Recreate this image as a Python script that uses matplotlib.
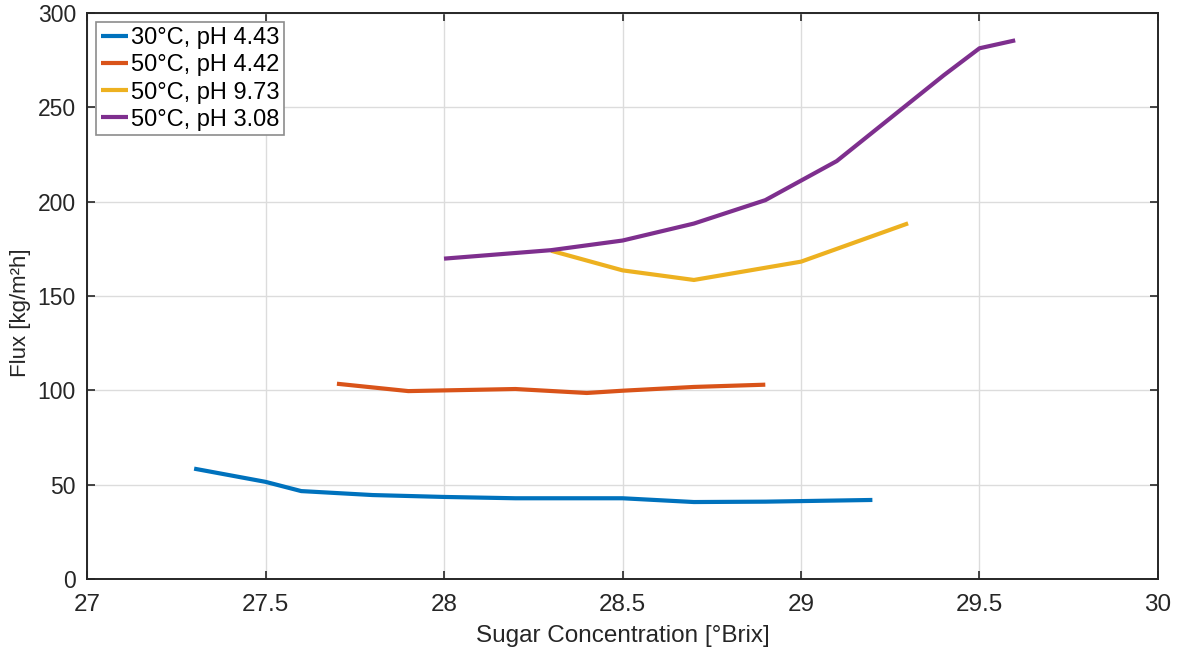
import matplotlib
matplotlib.use('Agg')
import matplotlib.pyplot as plt

# Flux vs sugar concentration for four temperature / pH runs
x_30_443 = [27.3, 27.5, 27.6, 27.8, 28.0, 28.2, 28.5, 28.7, 28.9, 29.0, 29.2]
y_30_443 = [58.5, 51.5, 46.6, 44.5, 43.5, 42.8, 42.8, 40.8, 41.0, 41.3, 41.9]

x_50_442 = [27.7, 27.9, 28.2, 28.4, 28.5, 28.7, 28.9]
y_50_442 = [103.5, 99.6, 100.7, 98.6, 99.8, 101.8, 103.0]

x_50_973 = [28.3, 28.5, 28.7, 29.0, 29.3]
y_50_973 = [174.0, 163.6, 158.5, 168.2, 188.5]

x_50_308 = [28.0, 28.3, 28.5, 28.7, 28.9, 29.1, 29.4, 29.5, 29.6]
y_50_308 = [169.8, 174.3, 179.4, 188.4, 200.8, 221.5, 267.0, 281.3, 285.5]

labels = ['30°C, pH 4.43', '50°C, pH 4.42', '50°C, pH 9.73', '50°C, pH 3.08']
colors = ['#0072BD', '#D95319', '#EDB120', '#7E2F8E']

xticks = [27, 27.5, 28, 28.5, 29, 29.5, 30]
yticks = [0, 50, 100, 150, 200, 250, 300]

plt.rcParams['font.family'] = ['Liberation Sans', 'DejaVu Sans']

fig = plt.figure(figsize=(11.81, 6.53), dpi=100)
ax = fig.add_axes([0.0737, 0.1133, 0.9068, 0.8668])

series = [(x_30_443, y_30_443), (x_50_442, y_50_442),
          (x_50_973, y_50_973), (x_50_308, y_50_308)]
for (xs, ys), lab, col in zip(series, labels, colors):
    ax.plot(xs, ys, color=col, linewidth=3, label=lab, solid_capstyle='butt')

ax.set_xlim(27, 30)
ax.set_ylim(0, 300)
ax.set_xticks(xticks)
ax.set_xticklabels([f'{t:g}' for t in xticks])
ax.set_yticks(yticks)

ax.grid(True, color='#DCDCDC', linewidth=1)
ax.set_axisbelow(True)
for sp in ax.spines.values():
    sp.set_color('#262626')
    sp.set_linewidth(1.4)

ax.tick_params(direction='in', length=6, width=1.2, colors='#262626',
               top=True, right=True)
ax.tick_params(axis='x', labelsize=17.5, pad=11)
ax.tick_params(axis='y', labelsize=16.5, pad=8)

ax.set_xlabel('Sugar Concentration [°Brix]', fontsize=17.5, color='#262626', labelpad=6)
ax.set_ylabel('Flux [kg/m²h]', fontsize=16, color='#262626')
ax.yaxis.set_label_coords(-0.052, 0.47)

leg = ax.legend(loc='upper left', fontsize=17, frameon=True, fancybox=False,
                edgecolor='#8C8C8C', framealpha=1, borderaxespad=0.4,
                handlelength=1.15, handletextpad=0.1, borderpad=0.2,
                labelspacing=0.22)
leg.get_frame().set_linewidth(1.2)

fig.savefig('out.png', dpi=100)
